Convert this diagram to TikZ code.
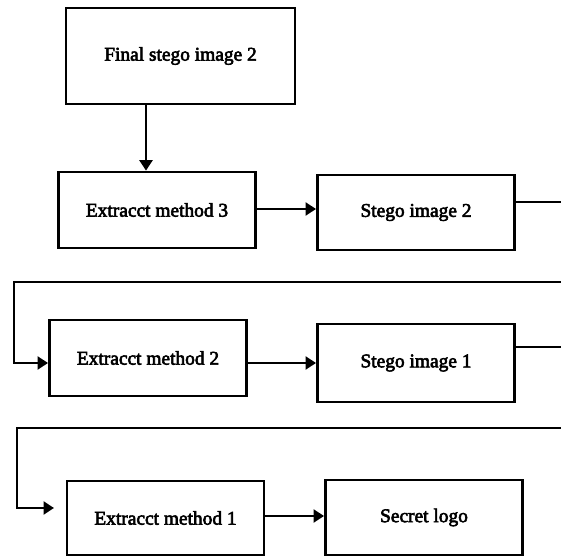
\documentclass[tikz,border=0pt]{standalone}
\usepackage{fontspec}
\setmainfont{Liberation Serif}
\newfontfamily\heavyserif{Liberation Serif}[RawFeature={embolden=3}]
\usepackage{tikz}
\usetikzlibrary{arrows.meta}

\begin{document}
\begin{tikzpicture}[
  x=0.025cm, y=-0.025cm,
  box/.style={draw=black,line width=1.9pt,fill=white,inner sep=0pt,
              minimum width=4.93cm,minimum height=1.9cm,align=center,
              font=\fontsize{13.8}{16}\heavyserif},
  arrow/.style={-{Triangle[length=0.26cm,width=0.32cm]},line width=1.8pt,color=black},
  link/.style={line width=1.8pt,color=black}
]
  \useasboundingbox (0,0) rectangle (561,556);
  \node[box,minimum width=5.72cm,minimum height=2.4cm] (final) at (180.5,56) {Final stego image 2};
  \node[box] (extractthree) at (157,210) {Extracct method 3};
  \node[box,minimum height=1.88cm] (stegotwo) at (416,212.5) {Stego image 2};
  \node[box] (extracttwo) at (148,358) {Extracct method 2};
  \node[box,minimum height=1.95cm] (stegoone) at (416,363) {Stego image 1};
  \node[box,minimum height=1.85cm] (extractone) at (165.5,518) {Extracct method 1};
  \node[box,minimum height=1.88cm] (secret) at (424,517.5) {Secret logo};
  % loose ends at the page edge
  \coordinate (edgea) at (561,202);
  \coordinate (edgeb) at (561,282);
  \coordinate (turna) at (14,363);
  \coordinate (edgec) at (561,347);
  \coordinate (edged) at (561,428);
  \coordinate (turnb) at (17,508);
  \coordinate (tipb) at (54,508);
  \draw[arrow] (final.south -| 146,0) -- (extractthree.north -| 146,0);
  \draw[arrow] (extractthree.east |- 0,209) -- (stegotwo.west |- 0,209);
  \draw[link] (stegotwo.east |- edgea) -- (edgea);
  \draw[arrow] (edgeb) -| (turna) -- (extracttwo.west |- turna);
  \draw[arrow] (extracttwo.east |- turna) -- (stegoone.west |- turna);
  \draw[link] (stegoone.east |- edgec) -- (edgec);
  \draw[arrow] (edged) -| (turnb) -- (tipb);
  \draw[arrow] (extractone.east |- 0,516) -- (secret.west |- 0,516);
\end{tikzpicture}
\end{document}
